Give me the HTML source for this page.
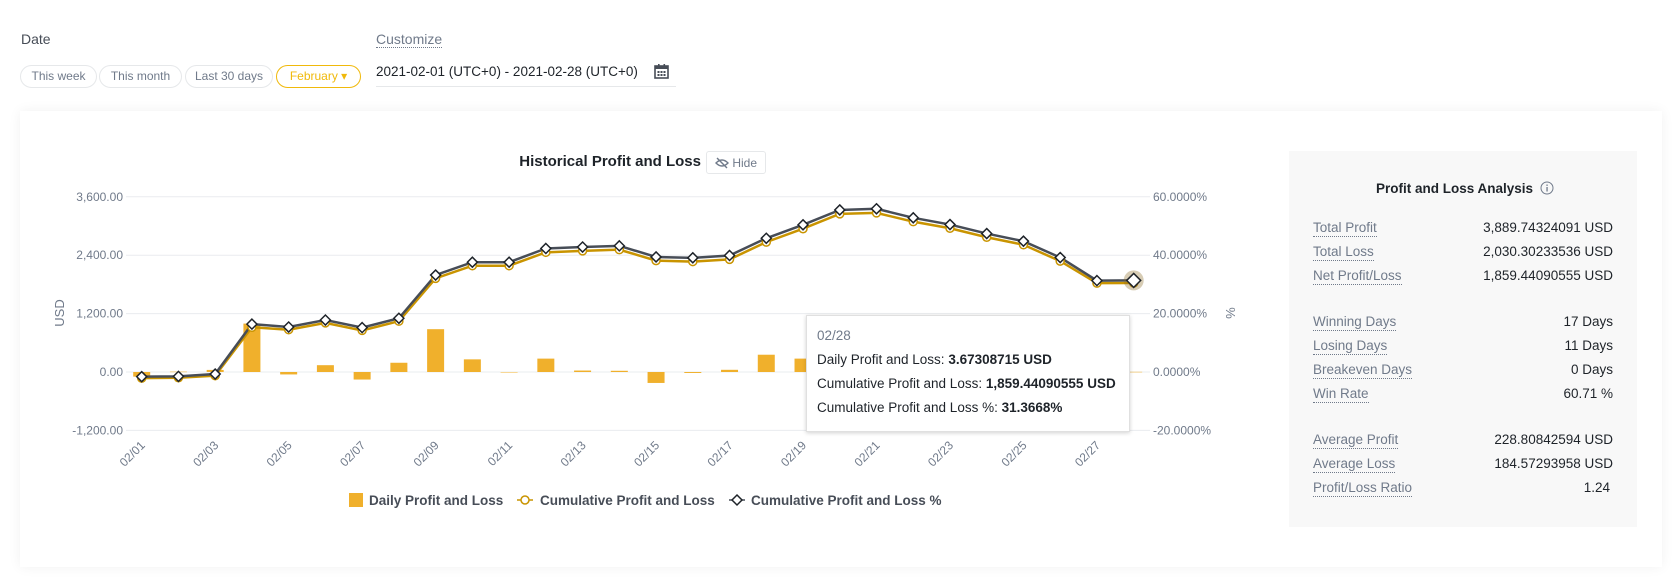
<!DOCTYPE html>
<html><head><meta charset="utf-8">
<style>
body{margin:0;width:1675px;height:584px;background:#fff;font-family:"Liberation Sans",sans-serif;position:relative;overflow:hidden;color:#1e2329}
.abs{position:absolute}
.pill{position:absolute;top:65px;height:21px;border:1px solid #e6e8ea;border-radius:12px;font-size:12px;color:#707a8a;line-height:21px;text-align:center;box-sizing:content-box}
.card{position:absolute;left:20px;top:111px;width:1642px;height:456px;background:#fff;box-shadow:0 0 12px rgba(0,0,0,0.06)}
.panel{position:absolute;left:1289px;top:151px;width:348px;height:376px;background:#f8f8f8}
.row{position:absolute;left:24px;width:300px;font-size:13.5px;height:20px}
.row .l{position:absolute;left:0;color:#707a8a;border-bottom:1px dotted #707a8a;line-height:17px}
.row .v{position:absolute;right:0;color:#1e2329;line-height:17px}
</style></head><body>
<div class="abs" style="left:21px;top:31px;font-size:14px;color:#474d57">Date</div>
<div class="pill" style="left:20px;width:75px">This week</div>
<div class="pill" style="left:99px;width:81px">This month</div>
<div class="pill" style="left:185px;width:86px">Last 30 days</div>
<div class="pill" style="left:276px;width:83px;border-color:#f0b90b;color:#f0b90b">February ▾</div>
<div class="abs" style="left:376px;top:31px;font-size:14px;color:#707a8a;border-bottom:1px dotted #707a8a">Customize</div>
<div class="abs" style="left:376px;top:62px;width:300px;height:24px;border-bottom:1px solid #e6e8ea;font-size:13.5px;color:#1e2329;line-height:20px">2021-02-01 (UTC+0) - 2021-02-28 (UTC+0)
<svg style="position:absolute;left:278px;top:2px" width="15" height="15" viewBox="0 0 15 15"><rect x="1" y="2" width="13" height="12" fill="none" stroke="#474d57" stroke-width="1.6"/><rect x="1" y="2" width="13" height="3" fill="#474d57"/><rect x="4" y="0" width="1.6" height="3" fill="#474d57"/><rect x="9.5" y="0" width="1.6" height="3" fill="#474d57"/><g fill="#474d57"><rect x="3.5" y="7" width="2" height="2"/><rect x="6.5" y="7" width="2" height="2"/><rect x="9.5" y="7" width="2" height="2"/><rect x="3.5" y="10" width="2" height="2"/><rect x="6.5" y="10" width="2" height="2"/><rect x="9.5" y="10" width="2" height="2"/></g></svg></div>
<div class="card"></div>
<svg id="chart" class="abs" style="left:0;top:0" width="1280" height="584"></svg>
<div class="abs" style="right:974px;top:153px;font-size:15px;font-weight:bold;color:#1e2329;white-space:nowrap">Historical Profit and Loss</div>
<div class="abs" style="left:706px;top:151px;width:60px;height:23px;border:1px solid #e6e8ea;border-radius:3px;font-size:12px;color:#707a8a;line-height:23px;text-align:right;box-sizing:border-box;padding-right:8px">Hide<svg style="position:absolute;left:8px;top:5px" width="14" height="12" viewBox="0 0 14 12"><path d="M1 6 Q7 0 13 6 Q7 12 1 6Z" fill="none" stroke="#707a8a" stroke-width="1.4"/><line x1="2" y1="1" x2="12" y2="11" stroke="#707a8a" stroke-width="1.4"/></svg></div>
<div class="abs" style="left:806px;top:315px;width:324px;height:117px;background:#fff;border:1px solid #e0e0e0;box-shadow:0 1px 4px rgba(0,0,0,0.18);box-sizing:border-box;font-size:13.5px;color:#1e2329;padding:8px 0 0 10px;line-height:24px">
<div style="color:#707a8a">02/28</div>
<div>Daily Profit and Loss: <b>3.67308715 USD</b></div>
<div>Cumulative Profit and Loss: <b>1,859.44090555 USD</b></div>
<div>Cumulative Profit and Loss %: <b>31.3668%</b></div>
</div>
<div class="panel">
<div class="abs" style="left:87px;top:30px;font-size:13.5px;font-weight:bold;white-space:nowrap">Profit and Loss Analysis</div>
<svg class="abs" style="left:251px;top:30px" width="14" height="14"><circle cx="7" cy="7" r="6" fill="none" stroke="#707a8a"/><rect x="6.4" y="6" width="1.3" height="4.5" fill="#707a8a"/><rect x="6.4" y="3.5" width="1.3" height="1.4" fill="#707a8a"/></svg>
<div class="row" style="top:68px"><span class="l">Total Profit</span><span class="v">3,889.74324091 USD</span></div>
<div class="row" style="top:92px"><span class="l">Total Loss</span><span class="v">2,030.30233536 USD</span></div>
<div class="row" style="top:116px"><span class="l">Net Profit/Loss</span><span class="v">1,859.44090555 USD</span></div>
<div class="row" style="top:162px"><span class="l">Winning Days</span><span class="v">17 Days</span></div>
<div class="row" style="top:186px"><span class="l">Losing Days</span><span class="v">11 Days</span></div>
<div class="row" style="top:210px"><span class="l">Breakeven Days</span><span class="v">0 Days</span></div>
<div class="row" style="top:234px"><span class="l">Win Rate</span><span class="v">60.71 %</span></div>
<div class="row" style="top:280px"><span class="l">Average Profit</span><span class="v">228.80842594 USD</span></div>
<div class="row" style="top:304px"><span class="l">Average Loss</span><span class="v">184.57293958 USD</span></div>
<div class="row" style="top:328px"><span class="l">Profit/Loss Ratio</span><span class="v" style="right:3px">1.24</span></div>
</div>
<script>
const categories=["02/01","02/02","02/03","02/04","02/05","02/06","02/07","02/08","02/09","02/10","02/11","02/12","02/13","02/14","02/15","02/16","02/17","02/18","02/19","02/20","02/21","02/22","02/23","02/24","02/25","02/26","02/27","02/28"];
const dailyPnl=[-95,7,43,995,-50,140,-155,190,880,260,0,275,30,25,-225,-20,45,355,275,305,20,-180,-135,-185,-155,-335,-454,3.67];
const cumPnl=[-95,-88,-45,950,900,1040,885,1075,1955,2215,2215,2490,2520,2545,2320,2300,2345,2700,2975,3280,3300,3120,2985,2800,2645,2310,1856,1859.44];
const cumPct=[-1.6,-1.5,-0.7,16.4,15.4,17.8,15.2,18.4,33.2,37.6,37.6,42.3,42.8,43.2,39.4,39.1,39.9,45.8,50.4,55.5,55.9,52.8,50.5,47.4,44.8,39.2,31.3,31.3668];
const leftTicks=[3600,2400,1200,0,-1200];
const leftTickLabels=["3,600.00","2,400.00","1,200.00","0.00","-1,200.00"];
const rightTickLabels=["60.0000%","40.0000%","20.0000%","0.0000%","-20.0000%"];
const NS="http://www.w3.org/2000/svg";
const svg=document.getElementById('chart');
const y0=372, pxPer=58.4/1200;
function yL(v){return y0-v*pxPer;}
function yR(p){return yL(p*60);}
function xS(i){return 141.7+i*36.74;}
function mk(t,a,txt){const e=document.createElementNS(NS,t);for(const k in a)e.setAttribute(k,a[k]);if(txt!==undefined)e.textContent=txt;svg.appendChild(e);return e;}
leftTicks.forEach((v,i)=>{
  const g=mk('line',{x1:126,x2:1150,y1:yL(v),y2:yL(v),stroke:'#eaecef','stroke-width':1});
  
  
  const t=mk('text',{x:123,y:yL(v)+4,'text-anchor':'end','font-size':12,fill:'#707a8a'},leftTickLabels[i]);
  
  
  const r=mk('text',{x:1153,y:yL(v)+4,'font-size':12,fill:'#707a8a'},rightTickLabels[i]);
  
  
});
const yt=mk('text',{x:64,y:313,'font-size':13,fill:'#707a8a','text-anchor':'middle',transform:'rotate(-90 64 313)'},'USD');


const yt2=mk('text',{x:1226,y:313,'font-size':13,fill:'#707a8a','text-anchor':'middle',transform:'rotate(90 1226 313)'},'%');


categories.forEach((c,i)=>{
  if(i%2===0){const t=mk('text',{x:xS(i)+4,y:446,'font-size':12,fill:'#707a8a','text-anchor':'end',transform:`rotate(-45 ${xS(i)+4} 446)`},c);
  
  }
  const v=dailyPnl[i];
  const b=mk('rect',{x:xS(i)-8.5,y:Math.min(yL(v),y0),width:17,height:Math.max(Math.abs(yL(v)-y0),0.5),fill:'#f0b02c'});
  
  
});
const pc=mk('polyline',{points:cumPnl.map((v,i)=>xS(i)+','+(yL(v)+1.5)).join(' '),fill:'none',stroke:'#c99400','stroke-width':2.5});


const pp=mk('polyline',{points:cumPct.map((v,i)=>xS(i)+','+yR(v)).join(' '),fill:'none',stroke:'#474d57','stroke-width':2.5});


cumPnl.forEach((v,i)=>{
  const c=mk('circle',{cx:xS(i),cy:yL(v)+1.5,r:4,fill:'#fff',stroke:'#c99400','stroke-width':1.5});
  
  
});
cumPct.forEach((v,i)=>{
  const last=i===cumPct.length-1;const s=last?7:5;const x=xS(i),y=yR(v);
  if(last){const h=mk('circle',{cx:x,cy:y,r:10,fill:'rgba(140,110,40,0.35)'});}
  const d=mk('polygon',{points:`${x},${y-s} ${x+s},${y} ${x},${y+s} ${x-s},${y}`,fill:'#fff',stroke:'#1e2329','stroke-width':1.5});
  
  
});
const l1=mk('rect',{x:349,y:493,width:14,height:14,fill:'#f0b02c'});
const t1=mk('text',{x:369,y:505,'font-size':13.5,'font-weight':'bold',fill:'#474d57'},'Daily Profit and Loss');
mk('line',{x1:517,x2:533,y1:500,y2:500,stroke:'#c99400','stroke-width':1.5});
const l2=mk('circle',{cx:525,cy:500,r:4,fill:'#fff',stroke:'#c99400','stroke-width':1.5});
const t2=mk('text',{x:540,y:505,'font-size':13.5,'font-weight':'bold',fill:'#474d57'},'Cumulative Profit and Loss');
mk('line',{x1:729,x2:745,y1:500,y2:500,stroke:'#474d57','stroke-width':1.5});
const l3=mk('polygon',{points:'737,495 742,500 737,505 732,500',fill:'#fff',stroke:'#1e2329','stroke-width':1.5});
const t3=mk('text',{x:751,y:505,'font-size':13.5,'font-weight':'bold',fill:'#474d57'},'Cumulative Profit and Loss %');
</script>
</body></html>
